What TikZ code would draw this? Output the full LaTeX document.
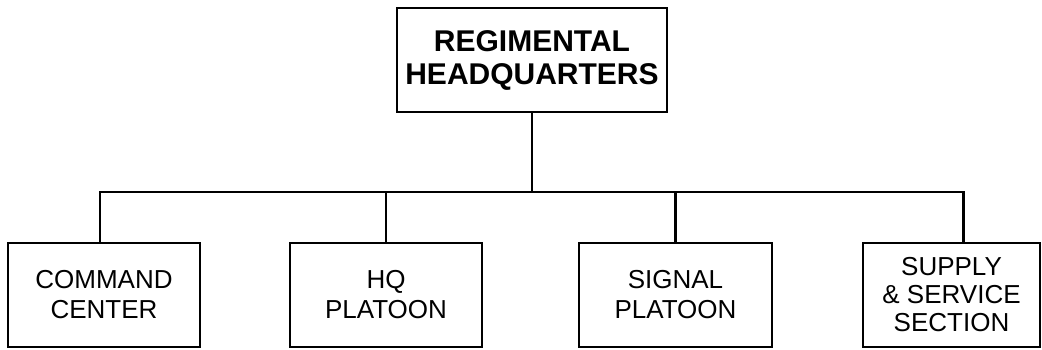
\documentclass[tikz,border=0pt]{standalone}
\usepackage{fontspec}
\setmainfont{Liberation Sans}
\begin{document}
\begin{tikzpicture}[x=1pt,y=1pt,line width=2.2pt,
  unit/.style={draw,rectangle,inner sep=0pt,align=center,minimum height=104pt,
    font=\fontsize{26}{30}\selectfont}]
  \useasboundingbox (0,0) rectangle (1042,-349);
  \node[unit,minimum width=270pt,font=\bfseries\fontsize{30}{33}\selectfont] (rhq) at (532,-60) {REGIMENTAL\\HEADQUARTERS};

  \node[unit,minimum width=192pt] (cmd) at (104,-295) {COMMAND\\CENTER};
  \node[unit,minimum width=192pt] (hqp) at (386,-295) {HQ\\PLATOON};
  \node[unit,minimum width=193pt] (sig) at (675.5,-295) {SIGNAL\\PLATOON};
  \node[unit,minimum width=177pt,font=\fontsize{26}{28}\selectfont] (sss) at (951.5,-295) {SUPPLY\\\& SERVICE\\SECTION};
  \coordinate (bus) at (532,-192);

  \draw (rhq.south) -- (bus);
  \draw ([xshift=-4pt]cmd.north) |- (bus) -| ([xshift=12pt]sss.north);
  \foreach \n in {hqp,sig}{
    \draw (\n.north) -- (\n.north |- bus);}
\end{tikzpicture}
\end{document}
